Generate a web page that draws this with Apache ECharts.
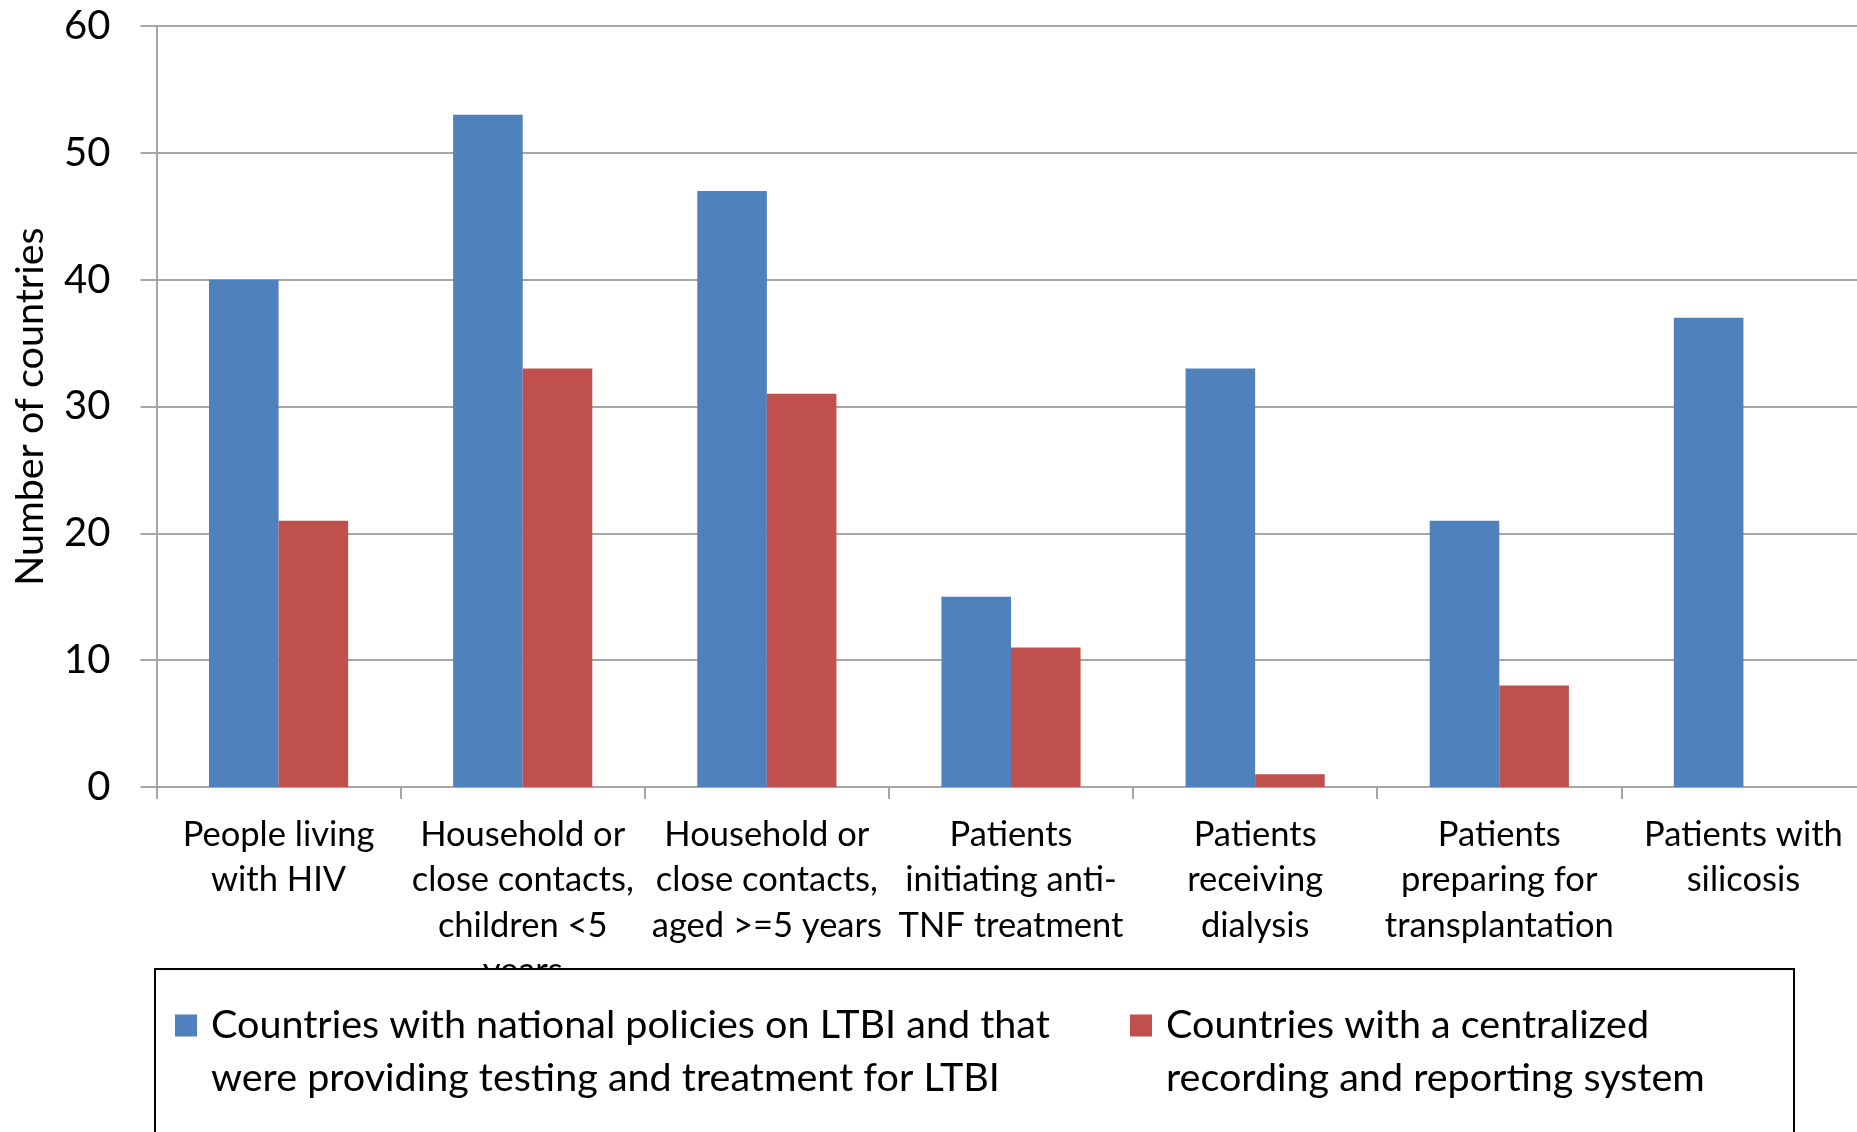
<!DOCTYPE html>
<html>
<head>
<meta charset="utf-8">
<script src="https://cdn.jsdelivr.net/npm/echarts@6/dist/echarts.min.js"></script>
<style>
  html, body { margin: 0; padding: 0; background: #fff; }
  #chart { width: 1857px; height: 1132px; }
</style>
</head>
<body>
<div id="chart"></div>
<script>
const categories = [
  "People living\nwith HIV",
  "Household or\nclose contacts,\nchildren <5\nyears",
  "Household or\nclose contacts,\naged >=5 years",
  "Patients\ninitiating anti-\nTNF treatment",
  "Patients\nreceiving\ndialysis",
  "Patients\npreparing for\ntransplantation",
  "Patients with\nsilicosis"
];
const policyCountries = [40, 53, 47, 15, 33, 21, 37];
const recordingCountries = [21, 33, 31, 11, 1, 8, 0];

const policyName = "Countries with national policies on LTBI and that were providing testing and treatment for LTBI";
const recordingName = "Countries with a centralized recording and reporting system";
const legendLines = {
  [policyName]: ["Countries with national policies on LTBI and that", "were providing testing and treatment for LTBI"],
  [recordingName]: ["Countries with a centralized", "recording and reporting system"]
};

const FONT = "Lato";
const gridColor = "#a6a6a6";

// blank first line keeps the marker level with the first text line
const legendBase = {
  top: 946,
  padding: 0,
  z: 10,
  itemWidth: 22,
  itemHeight: 22,
  icon: "rect",
  selectedMode: false,
  formatter: (name) => " \n" + legendLines[name].join("\n"),
  textStyle: {
    fontFamily: FONT,
    fontSize: 39.5,
    lineHeight: 53,
    color: "#000",
    padding: [0, 0, 0, 9]
  }
};

const chart = echarts.init(document.getElementById("chart"));
chart.setOption({
  animation: false,
  textStyle: { fontFamily: FONT },
  // plot runs a little past the right edge of the page, as in the original
  grid: { left: 156.5, top: 26, width: 1709, bottom: 345, outerBoundsMode: "none" },
  legend: [
    { ...legendBase, left: 175, data: [policyName] },
    { ...legendBase, left: 1130, data: [recordingName] }
  ],
  graphic: [{
    type: "rect",
    z: 3,
    shape: { x: 155, y: 969, width: 1639, height: 300 },
    style: { fill: "#fff", stroke: "#000", lineWidth: 2 }
  }],
  xAxis: {
    type: "category",
    data: categories,
    axisLine: { lineStyle: { color: gridColor, width: 2 } },
    axisTick: { show: true, length: 12, lineStyle: { color: gridColor, width: 2 } },
    axisLabel: {
      interval: 0,
      margin: 25,
      fontFamily: FONT,
      fontSize: 34.5,
      lineHeight: 45.5,
      color: "#000"
    }
  },
  yAxis: {
    type: "value",
    min: 0,
    max: 60,
    interval: 10,
    name: "Number of countries",
    nameLocation: "middle",
    nameGap: 106,
    nameTextStyle: { fontFamily: FONT, fontSize: 39.5, color: "#000" },
    axisLine: { show: true, lineStyle: { color: gridColor, width: 2 } },
    axisTick: { show: true, length: 16, lineStyle: { color: gridColor, width: 2 } },
    axisLabel: { margin: 46, fontFamily: FONT, fontSize: 40, color: "#000" },
    splitLine: { lineStyle: { color: gridColor, width: 2 } }
  },
  series: [
    {
      name: policyName,
      type: "bar",
      data: policyCountries,
      barGap: "0%",
      barCategoryGap: "43%",
      itemStyle: { color: "#4f81bd" }
    },
    {
      name: recordingName,
      type: "bar",
      data: recordingCountries,
      barGap: "0%",
      barCategoryGap: "43%",
      itemStyle: { color: "#c0504d" }
    }
  ]
});
</script>
</body>
</html>
